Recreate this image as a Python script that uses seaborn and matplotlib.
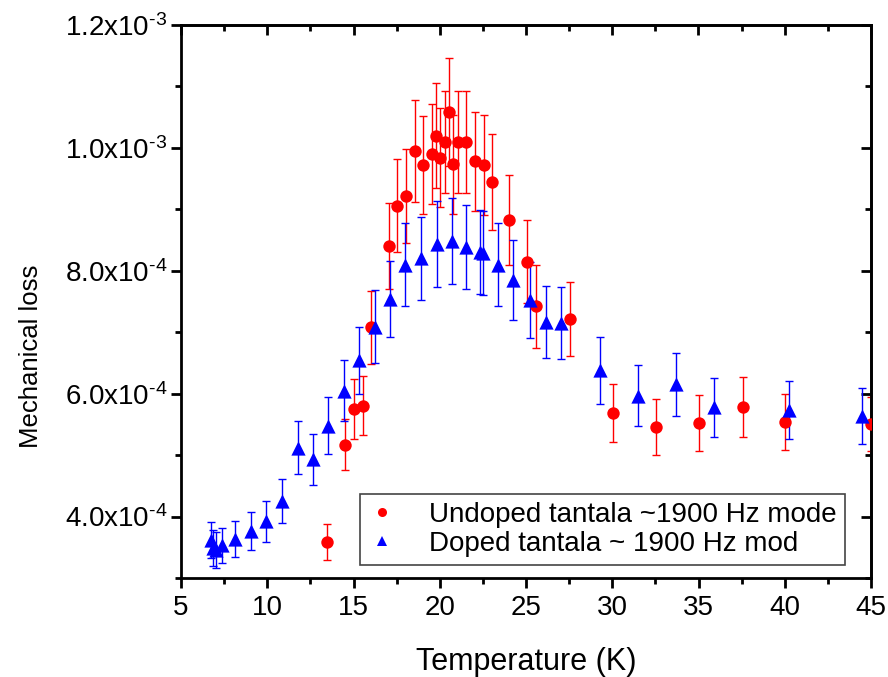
import numpy as np
import pandas as pd
import matplotlib
matplotlib.use("Agg")
import matplotlib.pyplot as plt
from matplotlib.lines import Line2D
from matplotlib.ticker import MultipleLocator
import seaborn as sns

# ---------------- data ----------------
label_undoped = "Undoped tantala ~1900 Hz mode"
label_doped = "Doped tantala ~ 1900 Hz mod"

T_undoped = [13.48, 14.52, 15.00, 15.53, 16.02, 17.04, 17.54, 18.05, 18.55, 19.04,
             19.54, 19.79, 20.04, 20.29, 20.54, 20.78, 21.05, 21.53, 22.02, 22.56,
             23.04, 24.03, 25.03, 25.56, 27.55, 30.03, 32.55, 35.04, 37.56, 40.04, 45.0]
loss_undoped = [3.59, 5.17, 5.75, 5.80, 7.08, 8.41, 9.06, 9.22, 9.95, 9.72,
                9.90, 10.20, 9.84, 10.10, 10.59, 9.73, 10.10, 10.10, 9.78, 9.72,
                9.44, 8.83, 8.15, 7.42, 7.21, 5.69, 5.46, 5.52, 5.78, 5.54, 5.50]  # x1e-4
err_undoped = [0.29, 0.42, 0.49, 0.48, 0.59, 0.70, 0.76, 0.76, 0.83, 0.80,
               0.81, 0.85, 0.81, 0.83, 0.88, 0.81, 0.83, 0.83, 0.81, 0.81,
               0.78, 0.73, 0.67, 0.67, 0.60, 0.47, 0.46, 0.46, 0.49, 0.46, 0.44]  # x1e-4

T_doped = [6.72, 6.84, 7.03, 7.36, 8.14, 9.05, 9.95, 10.85, 11.76, 12.65,
           13.55, 14.43, 15.34, 16.23, 17.10, 18.00, 18.92, 19.85, 20.72, 21.55,
           22.36, 22.52, 23.37, 24.26, 25.22, 26.14, 27.01, 29.27, 31.50, 33.69,
           35.88, 40.27, 44.47]
loss_doped = [3.615, 3.49, 3.46, 3.53, 3.63, 3.76, 3.92, 4.25, 5.12, 4.93,
              5.48, 6.05, 6.54, 7.09, 7.54, 8.10, 8.20, 8.44, 8.48, 8.39,
              8.31, 8.29, 8.10, 7.85, 7.53, 7.17, 7.15, 6.38, 5.97, 6.15,
              5.78, 5.74, 5.64]  # x1e-4
err_doped = [0.29, 0.29, 0.29, 0.29, 0.29, 0.31, 0.33, 0.36, 0.43, 0.41,
             0.46, 0.50, 0.55, 0.59, 0.62, 0.67, 0.68, 0.70, 0.70, 0.68,
             0.68, 0.68, 0.67, 0.65, 0.62, 0.59, 0.59, 0.55, 0.49, 0.51,
             0.48, 0.47, 0.46]  # x1e-4

xtick_values = [5, 10, 15, 20, 25, 30, 35, 40, 45]
ytick_values = [4.0e-4, 6.0e-4, 8.0e-4, 1.0e-3, 1.2e-3]
ytick_labels = [r"4.0x10$^{\text{-4}}$", r"6.0x10$^{\text{-4}}$",
                r"8.0x10$^{\text{-4}}$", r"1.0x10$^{\text{-3}}$",
                r"1.2x10$^{\text{-3}}$"]

scale = 1e-4
df = pd.DataFrame({
    "T": T_undoped + T_doped,
    "loss": [v * scale for v in loss_undoped + loss_doped],
    "err": [v * scale for v in err_undoped + err_doped],
    "series": [label_undoped] * len(T_undoped) + [label_doped] * len(T_doped),
})

# ---------------- style ----------------
sns.set_theme(style="ticks")
plt.rcParams["font.family"] = ["Liberation Sans", "DejaVu Sans"]
plt.rcParams["mathtext.fontset"] = "custom"
plt.rcParams["mathtext.rm"] = "Liberation Sans"
plt.rcParams["mathtext.it"] = "Liberation Sans:italic"
plt.rcParams["mathtext.bf"] = "Liberation Sans:bold"
plt.rcParams["text.color"] = "black"
plt.rcParams["axes.labelcolor"] = "black"
plt.rcParams["xtick.color"] = "black"
plt.rcParams["ytick.color"] = "black"

colors = {label_undoped: "#ff0000", label_doped: "#0000ff"}

fig = plt.figure(figsize=(8.88, 6.77), dpi=100)
ax = fig.add_axes([181 / 888, 1 - 578 / 677, (871 - 181) / 888, (578 - 25) / 677])

# error bars
for name in [label_undoped, label_doped]:
    sub = df[df["series"] == name]
    ax.errorbar(sub["T"], sub["loss"], yerr=sub["err"], fmt="none",
                ecolor=colors[name], elinewidth=1.0, capsize=3.0, capthick=1.0,
                zorder=2)

# markers
sub_u = df[df["series"] == label_undoped]
sub_d = df[df["series"] == label_doped]
sns.scatterplot(data=sub_u, x="T", y="loss", color=colors[label_undoped],
                marker="o", s=80, linewidth=0, ax=ax, zorder=3, legend=False)
sns.scatterplot(data=sub_d, x="T", y="loss", color=colors[label_doped],
                marker="^", s=105, linewidth=0, ax=ax, zorder=4, legend=False)

ax.set_xlim(5, 45)
ax.set_ylim(3.0e-4, 1.2e-3)
ax.set_xticks(xtick_values)
ax.set_yticks(ytick_values, labels=ytick_labels)
ax.xaxis.set_minor_locator(MultipleLocator(2.5))
ax.yaxis.set_minor_locator(MultipleLocator(1e-4))

for sp in ax.spines.values():
    sp.set_visible(True)
    sp.set_linewidth(2.0)
    sp.set_color("black")

ax.tick_params(axis="both", which="major", direction="out", length=7, width=2,
               labelsize=20, colors="black", pad=3)
ax.tick_params(axis="x", which="major", pad=5)
ax.tick_params(axis="both", which="minor", direction="out", length=4, width=2,
               colors="black")

# inward ticks on top and right
secx = ax.secondary_xaxis("top")
secx.set_xticks(xtick_values)
secx.xaxis.set_minor_locator(MultipleLocator(2.5))
secx.tick_params(which="major", direction="in", length=7, width=2, labeltop=False)
secx.tick_params(which="minor", direction="in", length=4, width=2)
secx.spines["top"].set_linewidth(2.0)
secy = ax.secondary_yaxis("right")
secy.set_yticks(ytick_values)
secy.yaxis.set_minor_locator(MultipleLocator(1e-4))
secy.tick_params(which="major", direction="in", length=7, width=2, labelright=False)
secy.tick_params(which="minor", direction="in", length=4, width=2)
secy.spines["right"].set_linewidth(2.0)

ax.set_xlabel("Temperature (K)", fontsize=22, labelpad=19)
ax.set_ylabel("Mechanical loss", fontsize=18.5)
ax.yaxis.set_label_coords(-0.20, 0.40)

handles = [
    Line2D([], [], linestyle="none", marker="o", color=colors[label_undoped],
           markersize=6.5, markeredgewidth=0),
    Line2D([], [], linestyle="none", marker="^", color=colors[label_doped],
           markersize=7, markeredgewidth=0),
]
leg = ax.legend(handles, [label_undoped, label_doped], loc="lower right",
                bbox_to_anchor=(0.9625, 0.0235), fontsize=20, frameon=True,
                fancybox=False, edgecolor="#444444", framealpha=1,
                borderpad=0.3, labelspacing=0.1, handletextpad=1.2,
                handlelength=1.0, borderaxespad=0)
leg.get_frame().set_linewidth(1.2)

fig.savefig("out.png", dpi=100)
